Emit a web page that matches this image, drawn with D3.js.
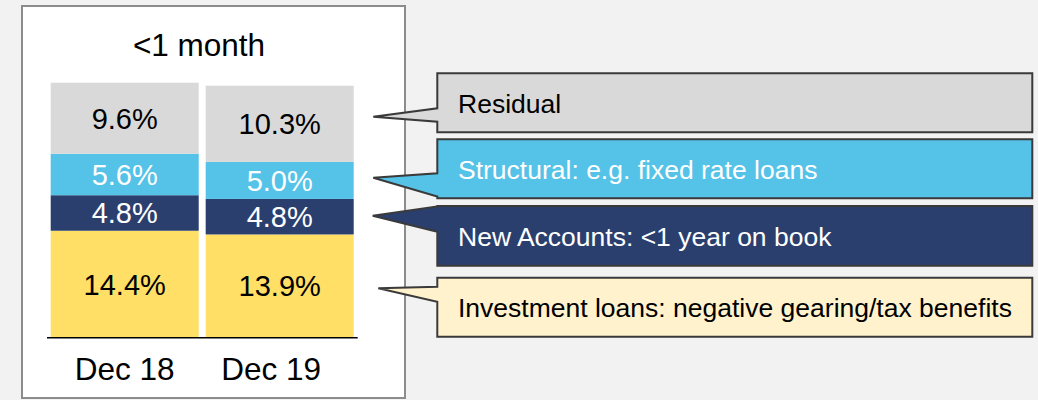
<!DOCTYPE html>
<html><head><meta charset="utf-8">
<script src="https://cdn.jsdelivr.net/npm/d3@7"></script>
<style>
html,body{margin:0;padding:0;background:#f2f2f2;}
svg{display:block;font-family:"Liberation Sans",Arial,sans-serif;}
</style></head>
<body>
<svg id="chart" width="1038" height="400"></svg>
<script>
// ---- data ----
const categories = ["Dec 18", "Dec 19"];
const seriesNames = ["Investment loans", "New Accounts", "Structural", "Residual"];
const investment = [14.4, 13.9];
const newAccounts = [4.8, 4.8];
const structural = [5.6, 5.0];
const residual = [9.6, 10.3];
const valueLabels = [["14.4%", "13.9%"], ["4.8%", "4.8%"], ["5.6%", "5.0%"], ["9.6%", "10.3%"]];
const title = "<1 month";
const calloutTexts = ["Residual", "Structural: e.g. fixed rate loans", "New Accounts: <1 year on book", "Investment loans: negative gearing/tax benefits"];

// ---- style ----
const fills = ["#ffdf66", "#2b3f6f", "#55c2e8", "#d9d9d9"];
const labelColors = ["#000", "#fff", "#fff", "#000"];
const calloutFills = ["#d9d9d9", "#55c2e8", "#2b3f6f", "#fff2cc"];
const calloutTextColors = ["#000", "#fff", "#fff", "#000"];
const tickLabelShift = [0, -8.5];
// callout layout: box top, bottom, wedge top, wedge bottom, tip x, tip y
const calloutLayout = [
  {top: 73.3, bottom: 132.3, w0: 108.3, w1: 121.7, tx: 373.3, ty: 116.7},
  {top: 139.3, bottom: 198.3, w0: 173.3, w1: 196.5, tx: 373.3, ty: 177.7},
  {top: 206, bottom: 265.7, w0: 206.5, w1: 231.7, tx: 372.7, ty: 215.7},
  {top: 277.7, bottom: 336.7, w0: 286.7, w1: 301.7, tx: 378.3, ty: 288.3}
];
const boxLeft = 437.3, boxRight = 1032.3;

const svg = d3.select("#chart");

// panel
svg.append("rect").attr("x", 22).attr("y", 6).attr("width", 383).attr("height", 392)
  .attr("fill", "#fff").attr("stroke", "#8c8c8c").attr("stroke-width", 2);

svg.append("text").attr("x", 199).attr("y", 56).attr("text-anchor", "middle")
  .attr("font-size", 31.5).attr("fill", "#000").text(title);

const x = d3.scaleBand().domain(categories).range([50.7, 353.7]).paddingInner(0.045).paddingOuter(0);
const y = d3.scaleLinear().domain([0, 40]).range([337.3, 337.3 - 296]);

const table = categories.map((c, i) => ({
  cat: c, "Investment loans": investment[i], "New Accounts": newAccounts[i],
  "Structural": structural[i], "Residual": residual[i]
}));
const stacked = d3.stack().keys(seriesNames)(table);

const g = svg.append("g");
stacked.forEach((layer, li) => {
  const lg = g.append("g");
  lg.selectAll("rect").data(layer).join("rect")
    .attr("x", d => x(d.data.cat))
    .attr("width", x.bandwidth())
    .attr("y", d => y(d[1]))
    .attr("height", d => y(d[0]) - y(d[1]))
    .attr("fill", fills[li]);
  lg.selectAll("text").data(layer).join("text")
    .attr("x", d => x(d.data.cat) + x.bandwidth() / 2)
    .attr("y", d => (y(d[0]) + y(d[1])) / 2 + 10.5)
    .attr("text-anchor", "middle")
    .attr("font-size", 29)
    .attr("fill", labelColors[li])
    .text((d, i) => valueLabels[li][i]);
});

// axis line
const axis = svg.append("g").attr("transform", `translate(0,${y(0)})`)
  .call(d3.axisBottom(x).tickSize(0).tickPadding(30));
axis.select(".domain").attr("d", "M47,0.5H357.7").attr("stroke", "#000").attr("stroke-width", 1.5);
axis.selectAll("text").attr("font-size", 31.5).attr("fill", "#000")
  .attr("font-family", "'Liberation Sans',Arial,sans-serif").attr("dy", "0.71em").attr("y", 20.5)
  .attr("x", (d, i) => tickLabelShift[i]);

// callouts
calloutLayout.forEach((c, i) => {
  const p = d3.path();
  p.moveTo(boxLeft, c.top);
  p.lineTo(boxRight, c.top);
  p.lineTo(boxRight, c.bottom);
  p.lineTo(boxLeft, c.bottom);
  p.lineTo(boxLeft, c.w1);
  p.lineTo(c.tx, c.ty);
  p.lineTo(boxLeft, c.w0);
  p.closePath();
  svg.append("path").attr("d", p.toString()).attr("fill", calloutFills[i])
    .attr("stroke", "#3a3a3a").attr("stroke-width", 2).attr("stroke-linejoin", "miter");
  svg.append("text").attr("x", 458).attr("y", (c.top + c.bottom) / 2 + 9.7)
    .attr("font-size", 26.5).attr("fill", calloutTextColors[i]).text(calloutTexts[i]);
});
</script>
</body></html>
